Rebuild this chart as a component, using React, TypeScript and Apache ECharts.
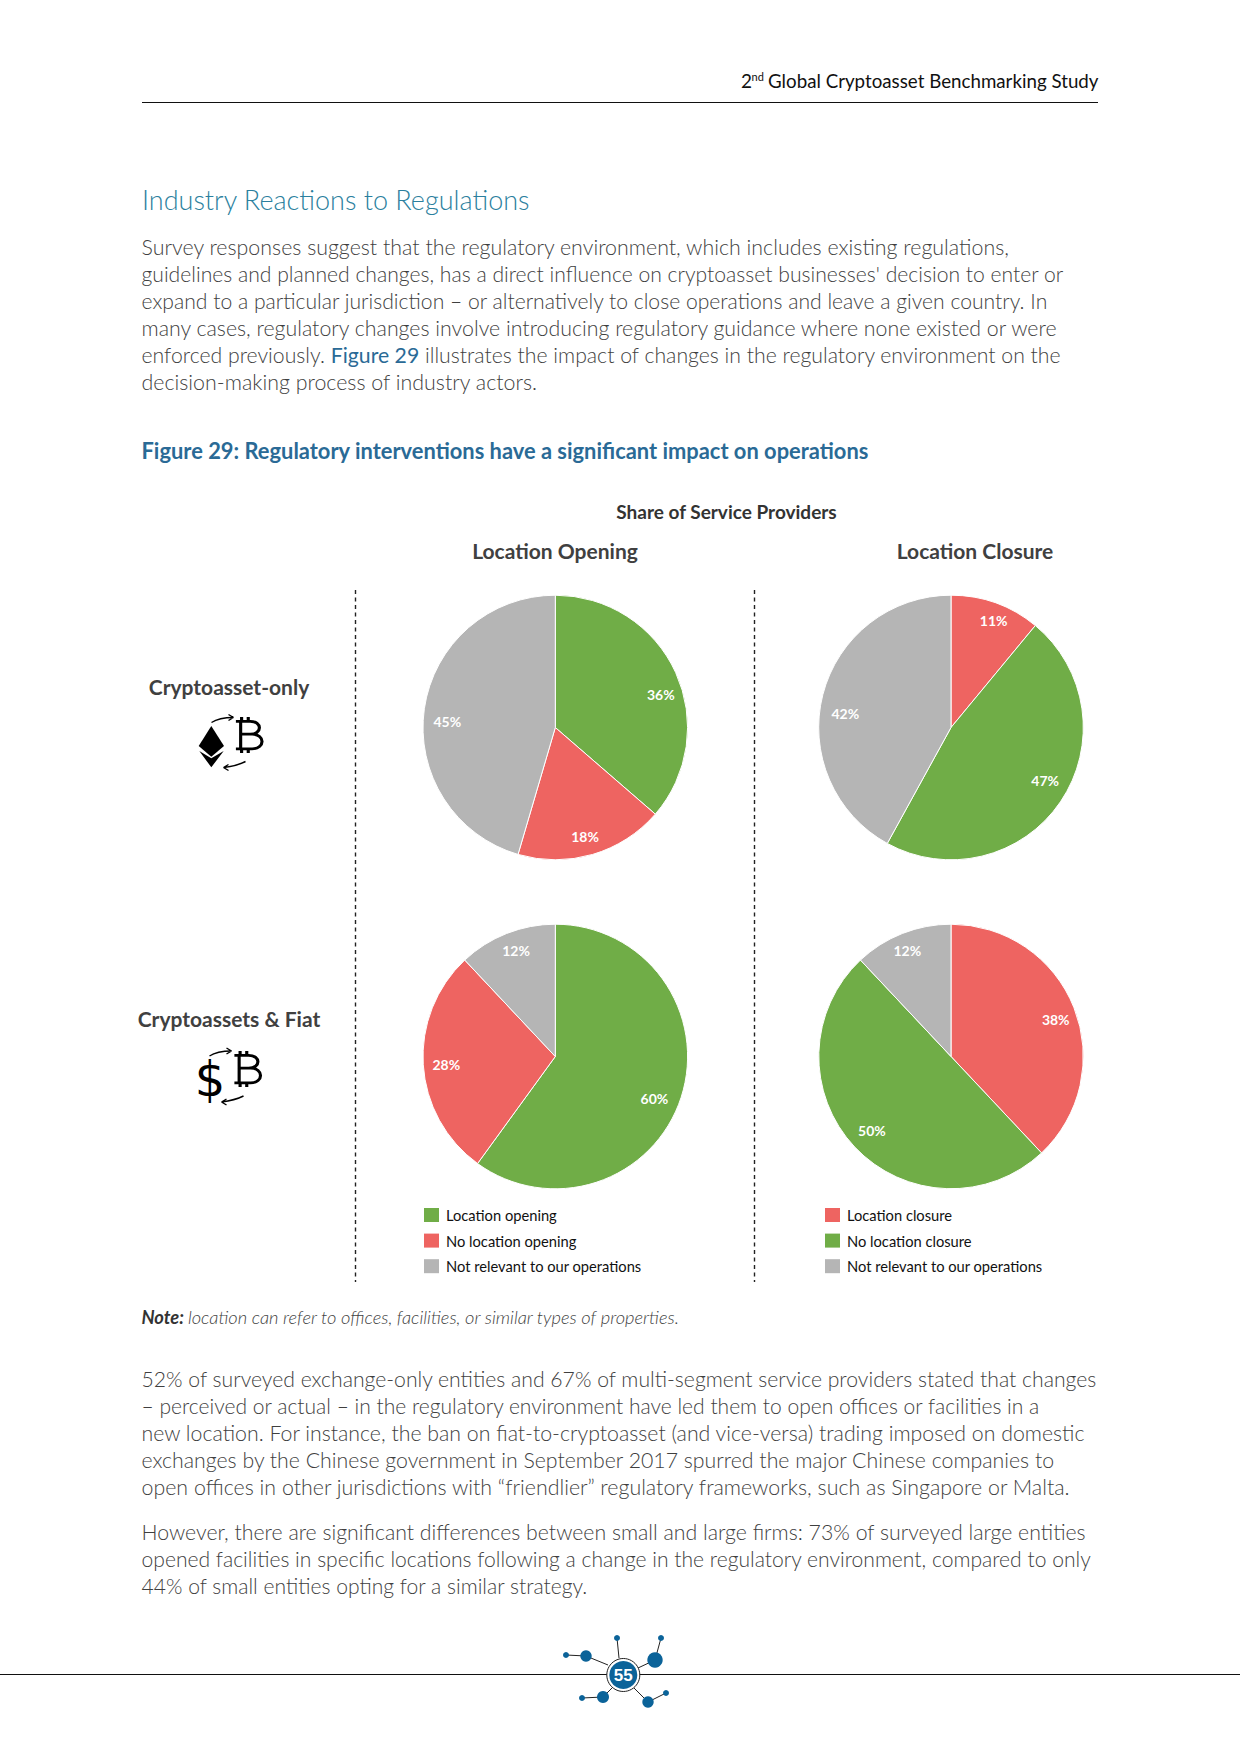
import React, { useEffect, useRef } from "react";
import * as echarts from "echarts";

const FONT = "Lato";
const openingNames = ["Location opening", "No location opening", "Not relevant to our operations"];
const closureNames = ["Location closure", "No location closure", "Not relevant to our operations"];
const cryptoOpening = [36, 18, 45];
const cryptoClosure = [11, 47, 42];
const fiatOpening = [60, 28, 12];
const fiatClosure = [38, 50, 12];
const GREEN = "#70AD47";
const RED = "#EE6461";
const GRAY = "#B5B5B5";
const openingColors = [GREEN, RED, GRAY];
const closureColors = [RED, GREEN, GRAY];

const introLines = [
  "Survey responses suggest that the regulatory environment, which includes existing regulations,",
  "guidelines and planned changes, has a direct influence on cryptoasset businesses' decision to enter or",
  "expand to a particular jurisdiction – or alternatively to close operations and leave a given country. In",
  "many cases, regulatory changes involve introducing regulatory guidance where none existed or were",
];
const introY = [247, 274, 301, 328];
const introFit = [0.972, 0.961, 0.961, 0.97];
const bodyLines = [
  "52% of surveyed exchange-only entities and 67% of multi-segment service providers stated that changes",
  "– perceived or actual – in the regulatory environment have led them to open offices or facilities in a",
  "new location. For instance, the ban on fiat-to-cryptoasset (and vice-versa) trading imposed on domestic",
  "exchanges by the Chinese government in September 2017 spurred the major Chinese companies to",
  "open offices in other jurisdictions with “friendlier” regulatory frameworks, such as Singapore or Malta.",
  "However, there are significant differences between small and large firms: 73% of surveyed large entities",
  "opened facilities in specific locations following a change in the regulatory environment, compared to only",
  "44% of small entities opting for a similar strategy.",
];
const bodyY = [1379, 1406, 1433, 1460, 1487, 1532, 1559, 1586];
const bodyFit = [0.963, 0.957, 0.968, 0.968, 0.972, 0.967, 0.959, 0.959];

const BODY = { fontFamily: FONT, fontWeight: 300, fontSize: 22, fill: "#3f3f3f" };
const BTC =
  "M8 0V5M15 0V5M8 37V42M15 37V42M2 5H17C30 5 30 20 17 20H7M7 20H19C33 20 33 37 19 37H2M7 5V37";
const ARROW_UP = "M0 5C6 1 14 0 22 0M22 0L17 -3M22 0L17 3";
const ARROW_DOWN = "M22 0C16 3 8 5 0 6M0 6L5 3M0 6L5 9";

// nudges of the percentage labels away from the slice mid-angle, per slice
const nudgeCryptoOpening = [[3, 13.4], [-2, 1], [3.5, 10]];
const nudgeCryptoClosure = [[4.5, -1], [1, -10], [3.4, 14.5]];
const nudgeFiatOpening = [[-8, 6.7], [3.4, 1], [2.2, -1]];
const nudgeFiatClosure = [[0, 4.5], [3, -3], [-2.2, -1]];

function t(text: string, x: number, y: number, style: any, scaleX = 1) {
  return { type: "text", x, y, scaleX, silent: true, style: { text, verticalAlign: "middle", ...style } };
}
function line(x1: number, y1: number, x2: number, y2: number, stroke: string, lineWidth = 1, lineDash?: number[]) {
  return { type: "line", silent: true, shape: { x1, y1, x2, y2 }, style: { stroke, lineWidth, lineDash } };
}
function pie(values: number[], names: string[], colors: string[], cx: number, cy: number, nudges: number[][]) {
  const data = values.map((value, i) => ({ value, name: names[i], itemStyle: { color: colors[i] } }));
  const overlay = values.map((value, i) => ({ value, name: names[i], itemStyle: { color: "transparent", borderWidth: 0 } }));
  return [
    {
      type: "pie", center: [cx, cy], radius: [0, 132.3], startAngle: 90, clockwise: true, silent: true,
      label: { show: false }, labelLine: { show: false },
      itemStyle: { borderColor: "#fff", borderWidth: 1 }, data,
    },
    {
      type: "pie", center: [cx, cy], radius: [87, 132.3], startAngle: 90, clockwise: true, silent: true,
      label: { show: true, position: "inside", formatter: "{c}%", color: "#fff", fontFamily: FONT, fontWeight: 700, fontSize: 14 },
      labelLayout: (p: any) => ({ dx: nudges[p.dataIndex][0], dy: nudges[p.dataIndex][1] }),
      labelLine: { show: false }, data: overlay,
    },
  ];
}

export default function App() {
  const ref = useRef<HTMLDivElement>(null);
  useEffect(() => {
    echarts.graphic.registerShape("btcGlyph", echarts.graphic.extendPath(BTC as any, {}) as any);
    echarts.graphic.registerShape("arrowUp", echarts.graphic.extendPath(ARROW_UP as any, {}) as any);
    echarts.graphic.registerShape("arrowDown", echarts.graphic.extendPath(ARROW_DOWN as any, {}) as any);
    const chart = echarts.init(ref.current!, undefined, { renderer: "svg" });
    const blue = "#0B6399";
    const icon = (type: string, x: number, y: number, stroke: string, lineWidth: number, sx = 1, sy = 1) => ({
      type, x, y, scaleX: sx, scaleY: sy, silent: true, style: { stroke, fill: "none", lineWidth },
    });
    const nodes = [[566, 1655, 3], [586, 1656, 5.7], [617, 1638, 3], [661, 1638, 3], [655, 1660, 7.7], [603, 1697, 6], [582, 1698, 3], [648, 1702, 5.7], [666, 1693, 3]];
    const links = [
      [566, 1655, 586, 1656], [586, 1656, 608, 1665], [617, 1638, 619, 1658], [661, 1638, 655, 1660], [655, 1660, 638, 1668],
      [582, 1698, 603, 1697], [603, 1697, 612, 1688], [666, 1693, 648, 1702], [648, 1702, 634, 1688],
    ];
    const graphic: any[] = [
      t("2", 741, 80.5, { fontFamily: FONT, fontSize: 19, fill: "#111" }),
      t("nd", 751.5, 76, { fontFamily: FONT, fontSize: 11, fill: "#111" }),
      t("Global Cryptoasset Benchmarking Study", 1098.5, 80.5, { fontFamily: FONT, fontSize: 19, fill: "#111", align: "right" }, 0.987),
      line(142, 102.5, 1098, 102.5, "#111", 1),
      t("Industry Reactions to Regulations", 142, 199, { fontFamily: FONT, fontWeight: 300, fontSize: 27, fill: "#2B7F9E" }),
      ...introLines.map((s, i) => t(s, 141.5, introY[i], BODY, introFit[i])),
      {
        type: "text", x: 141.5, y: 355, scaleX: 0.965, silent: true,
        style: {
          text: "{a|enforced previously. }{b|Figure 29}{a| illustrates the impact of changes in the regulatory environment on the}",
          verticalAlign: "middle",
          rich: {
            a: { fontFamily: FONT, fontWeight: 300, fontSize: 22, fill: "#3f3f3f" },
            b: { fontFamily: FONT, fontWeight: 400, fontSize: 22, fill: "#2A6A96" },
          },
        },
      },
      t("decision-making process of industry actors.", 141.5, 382, BODY, 0.972),
      t("Figure 29: Regulatory interventions have a significant impact on operations", 141.5, 450, { fontFamily: FONT, fontWeight: 700, fontSize: 22, fill: "#2A6A96" }, 0.995),
      t("Share of Service Providers", 726.5, 511.5, { fontFamily: FONT, fontWeight: 700, fontSize: 19, fill: "#333", align: "center" }),
      t("Location Opening", 555, 550, { fontFamily: FONT, fontWeight: 700, fontSize: 21, fill: "#404040", align: "center" }),
      t("Location Closure", 975, 550, { fontFamily: FONT, fontWeight: 700, fontSize: 21, fill: "#404040", align: "center" }),
      t("Cryptoasset-only", 229, 686, { fontFamily: FONT, fontWeight: 700, fontSize: 21, fill: "#404040", align: "center" }),
      t("Cryptoassets & Fiat", 229, 1018.5, { fontFamily: FONT, fontWeight: 700, fontSize: 21, fill: "#404040", align: "center" }),
      line(355.5, 590, 355.5, 1282, "#222", 1.4, [4, 3.5]),
      line(754.5, 590, 754.5, 1282, "#222", 1.4, [4, 3.5]),
      { type: "polygon", silent: true, shape: { points: [[211.3, 726], [198.7, 746], [211.3, 756.7], [224, 746]] }, style: { fill: "#000" } },
      { type: "polygon", silent: true, shape: { points: [[199.3, 751], [211.3, 758.3], [223.7, 751], [211.3, 767.3]] }, style: { fill: "#000" } },
      icon("btcGlyph", 234, 717, "#000", 3.3, 0.95, 0.86),
      icon("arrowUp", 211.5, 717.5, "#000", 1.4),
      icon("arrowDown", 223.5, 761.5, "#000", 1.4),
      t("$", 210, 1079, { fontFamily: "DejaVu Sans", fontSize: 48, fill: "#000", align: "center" }, 1),
      icon("btcGlyph", 232.5, 1051, "#000", 3.3, 0.95, 0.86),
      icon("arrowUp", 209.5, 1051, "#000", 1.4),
      icon("arrowDown", 221.5, 1096, "#000", 1.4),
      {
        type: "text", x: 141.5, y: 1317, silent: true,
        style: {
          text: "{a|Note: }{b|location can refer to offices, facilities, or similar types of properties.}",
          verticalAlign: "middle",
          rich: {
            a: { fontFamily: FONT, fontWeight: 700, fontStyle: "italic", fontSize: 18.3, fill: "#333" },
            b: { fontFamily: FONT, fontWeight: 300, fontStyle: "italic", fontSize: 18.3, fill: "#3f3f3f" },
          },
        },
      },
      ...bodyLines.map((s, i) => t(s, 141.5, bodyY[i], BODY, bodyFit[i])),
      line(0, 1674.5, 1240, 1674.5, "#111", 1),
      ...links.map((l) => line(l[0], l[1], l[2], l[3], "#222", 1)),
      ...nodes.map((n) => ({ type: "circle", silent: true, shape: { cx: n[0], cy: n[1], r: n[2] }, style: { fill: blue } })),
      { type: "circle", silent: true, shape: { cx: 623.3, cy: 1675, r: 16.5 }, style: { fill: "#fff", stroke: "#222", lineWidth: 1 } },
      { type: "circle", silent: true, shape: { cx: 623.3, cy: 1675, r: 14 }, style: { fill: blue } },
      t("55", 623.3, 1675.5, { fontFamily: "Liberation Sans", fontWeight: 700, fontSize: 17, fill: "#fff", align: "center" }),
    ];
    const legendBase = {
      orient: "vertical", itemWidth: 15, itemHeight: 14, itemGap: 10.6, top: 1207.5, selectedMode: false, padding: 0,
      itemStyle: { borderWidth: 0 },
      textStyle: { fontFamily: FONT, fontSize: 14.7, color: "#111", padding: [0, 0, 0, 2] },
    };
    chart.setOption({
      animation: false,
      legend: [
        { ...legendBase, left: 424, data: openingNames, icon: "rect" },
        { ...legendBase, left: 825, data: closureNames, icon: "rect" },
      ],
      series: [
        ...pie(cryptoOpening, openingNames, openingColors, 555.3, 727.5, nudgeCryptoOpening),
        ...pie(cryptoClosure, closureNames, closureColors, 951, 727.5, nudgeCryptoClosure),
        ...pie(fiatOpening, openingNames, openingColors, 555.3, 1056.5, nudgeFiatOpening),
        ...pie(fiatClosure, closureNames, closureColors, 951, 1056.5, nudgeFiatClosure),
      ],
      graphic: { elements: graphic },
    });
    return () => chart.dispose();
  }, []);
  return <div ref={ref} style={{ position: "absolute", left: 0, top: 0, width: 1240, height: 1754, background: "#fff" }} />;
}
